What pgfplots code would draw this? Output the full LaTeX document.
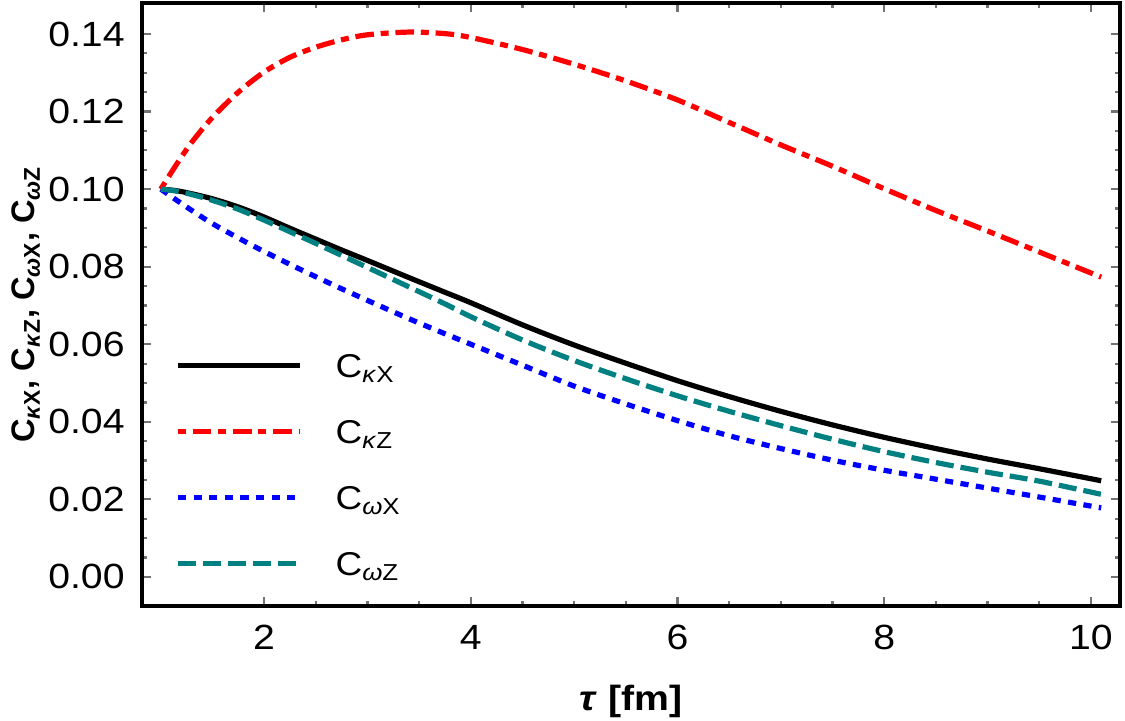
\documentclass[border=0pt]{standalone}
\usepackage{pgfplots}
\pgfplotsset{compat=1.18}
\usepackage{pgfplotstable}
\usepackage{fontspec}
\setmainfont{Liberation Sans}[FakeStretch=1.12]
\newfontfamily\plainsans{Liberation Sans}
\usetikzlibrary{calc}

\definecolor{cteal}{rgb}{0,0.5,0.5}
\definecolor{tickgray}{gray}{0.45}

% tau [fm] and the four correlation coefficients
\pgfplotstableread{
tau   ckx    ckz    cwx    cwz
1.00  0.1000 0.1000 0.1000 0.1000
1.15  0.0996 0.1063 0.0972 0.0995
1.30  0.0988 0.1121 0.0945 0.0986
1.50  0.0975 0.1185 0.0911 0.0971
1.75  0.0954 0.1250 0.0874 0.0948
2.00  0.0928 0.1302 0.0839 0.0920
2.25  0.0899 0.1340 0.0806 0.0890
2.50  0.0871 0.1366 0.0774 0.0860
2.75  0.0843 0.1385 0.0743 0.0829
3.00  0.0816 0.1398 0.0713 0.0798
3.40  0.0772 0.1405 0.0666 0.0748
3.75  0.0734 0.1401 0.0627 0.0704
4.00  0.0707 0.1391 0.0600 0.0671
4.50  0.0650 0.1360 0.0546 0.0611
5.00  0.0598 0.1322 0.0492 0.0558
5.50  0.0551 0.1279 0.0446 0.0511
6.00  0.0506 0.1230 0.0403 0.0467
6.50  0.0465 0.1172 0.0364 0.0427
7.00  0.0427 0.1114 0.0331 0.0390
7.50  0.0392 0.1059 0.0301 0.0355
8.00  0.0360 0.1001 0.0275 0.0323
8.50  0.0331 0.0945 0.0252 0.0295
9.00  0.0304 0.0892 0.0229 0.0270
9.50  0.0279 0.0838 0.0206 0.0247
10.10 0.0248 0.0773 0.0178 0.0213
}\curves

\begin{document}
\begin{tikzpicture}
\begin{axis}[
  name=ax,
  scale only axis,
  width=489pt, height=301.5pt,
  xmin=0.818, xmax=10.282,
  ymin=-0.0075, ymax=0.148,
  xtick={2,4,6,8,10},
  ytick={0,0.02,0.04,0.06,0.08,0.10,0.12,0.14},
  minor x tick num=3,
  minor y tick num=3,
  tick align=inside,
  axis line style={line width=1.6pt},
  every tick/.style={tickgray, line width=1.1pt},
  major tick length=4.5pt,
  minor tick length=2.5pt,
  /pgf/number format/assume math mode=true,
  y tick label style={/pgf/number format/fixed, /pgf/number format/fixed zerofill, /pgf/number format/precision=2},
  scaled y ticks=false,
  ticklabel style={font=\fontsize{17.5}{20}\selectfont},
  yticklabel style={inner sep=0pt, xshift=-8.5pt},
  xticklabel style={inner sep=0pt, yshift=-9.5pt},
  xlabel={\bfseries\textit{τ} [fm]},
  ylabel={\plainsans\bfseries C\textsubscript{\textit{κ}X}, C\textsubscript{\textit{κ}Z}, C\textsubscript{\textit{ω}X}, C\textsubscript{\textit{ω}Z}},
  xlabel style={font=\fontsize{17.5}{20}\selectfont, at={(axis description cs:0.5,-0.1725)}, anchor=base},
  ylabel style={font=\fontsize{16.3}{19}\selectfont, at={(axis description cs:-0.1185,0.5)}, anchor=center, rotate=0},
  legend cell align=left,
  % sample line sits a little above the middle of its entry's text
  legend image code/.code={\draw[#1] (0pt,2.5pt) -- (61pt,2.5pt);},
  legend style={draw=none, fill=none, inner sep=0pt,
    at={(axis description cs:0.0337,0.4167)}, anchor=north west,
    font=\fontsize{16.5}{19}\selectfont,
    row sep=18pt, column sep=16.5pt,
    nodes={inner sep=0pt, text height=11pt, text depth=4pt}},
  every axis plot/.append style={line width=2.6pt, line cap=butt},
]
\addplot[black, smooth] table[x=tau, y=ckx] {\curves};
\addlegendentry{C\textsubscript{\textit{κ}X}}
\addplot[red, smooth, dash pattern=on 4pt off 3.4pt on 9.3pt off 3.4pt] table[x=tau, y=ckz] {\curves};
\addlegendentry{C\textsubscript{\textit{κ}Z}}
\addplot[blue, smooth, dash pattern=on 4.1pt off 3.7pt] table[x=tau, y=cwx] {\curves};
\addlegendentry{C\textsubscript{\textit{ω}X}}
\addplot[cteal, smooth, dash pattern=on 9pt off 3.5pt] table[x=tau, y=cwz] {\curves};
\addlegendentry{C\textsubscript{\textit{ω}Z}}
\end{axis}
\pgfresetboundingbox
\path ($(ax.south west)+(-71pt,-57.5pt)$) rectangle ($(ax.north east)+(2.5pt,1.5pt)$);
\end{tikzpicture}
\end{document}
